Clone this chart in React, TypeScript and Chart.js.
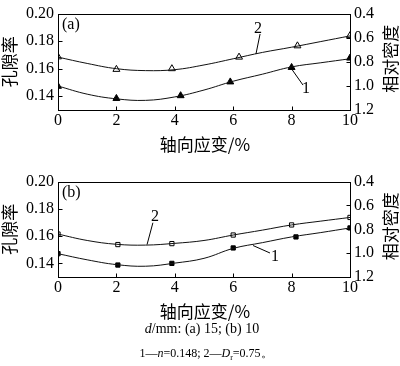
import React, { useEffect, useRef } from "react";
import { Chart, registerables } from "chart.js";
Chart.register(...registerables);

// ---- data ----
const xTicks = [0, 2, 4, 6, 8, 10];
const porosityTicks = [0.14, 0.16, 0.18, 0.2];
const densityTicks = [0.4, 0.6, 0.8, 1.0, 1.2];
const curveX = [0, 1, 2, 3, 4, 5, 6, 7, 8, 9, 10];

const aCurve2 = [0.1684, 0.1638, 0.16, 0.1586, 0.1593, 0.1627, 0.1672, 0.1718, 0.1756, 0.1797, 0.1838];
const aCurve1 = [0.1474, 0.1415, 0.1381, 0.137, 0.1395, 0.1445, 0.1509, 0.156, 0.1613, 0.1643, 0.1672];
const aPts2X = [0, 2, 3.9, 6.2, 8.2, 10];
const aPts2Y = [0.1686, 0.1595, 0.16, 0.1684, 0.1766, 0.184];
const aPts1X = [0, 2, 4.2, 5.9, 8.0, 10];
const aPts1Y = [0.1472, 0.1384, 0.1404, 0.1504, 0.1609, 0.1677];

const bCurve2 = [0.1615, 0.1568, 0.154, 0.1534, 0.1547, 0.1568, 0.1608, 0.1644, 0.1682, 0.171, 0.1737];
const bCurve1 = [0.1471, 0.1426, 0.1391, 0.1379, 0.1402, 0.1437, 0.151, 0.1552, 0.1594, 0.1626, 0.166];
const bPts2X = [0, 2.05, 3.9, 6, 8, 10];
const bPts2Y = [0.1615, 0.1538, 0.1545, 0.1608, 0.1682, 0.1737];
const bPts1X = [0, 2.05, 3.9, 6, 8.15, 10];
const bPts1Y = [0.1471, 0.1388, 0.14, 0.1513, 0.1594, 0.166];

// annotation labels: [text, x, y, leaderX1, leaderY1, leaderX2, leaderY2]
const aNotes: [string, number, number, number, number, number, number][] = [
  ["2", 6.85, 0.189, 6.92, 0.1852, 6.78, 0.1707],
  ["1", 8.49, 0.1454, 7.98, 0.1604, 8.39, 0.1481],
];
const bNotes: [string, number, number, number, number, number, number][] = [
  ["2", 3.32, 0.1739, 3.25, 0.1698, 3.05, 0.1538],
  ["1", 7.43, 0.1448, 6.68, 0.1531, 7.26, 0.1476],
];

const xTitle = "轴向应变/%";
const yTitle = "孔隙率";
const y2Title = "相对密度";

const SERIF = "'Liberation Serif', 'Times New Roman', serif";
const CJK = "'Noto Sans CJK SC', sans-serif";

function zip(xs: number[], ys: number[]) {
  return xs.map((x, i) => ({ x, y: ys[i] }));
}

const decorPlugin = {
  id: "decor",
  afterDraw(chart: any, _args: any, opts: any) {
    const ctx = chart.ctx;
    const { left, right, top, bottom } = chart.chartArea;
    const xs = chart.scales.x;
    const ys = chart.scales.y;
    const y2 = chart.scales.y2;
    ctx.save();
    ctx.strokeStyle = "#000";
    ctx.lineWidth = 1;
    const L = Math.round(left) + 0.5;
    const R = Math.round(right) + 0.5;
    const T = Math.round(top) + 0.5;
    const B = Math.round(bottom) + 0.5;
    ctx.strokeRect(L, T, R - L, B - T);
    ctx.beginPath();
    const tl = 4;
    xTicks.forEach((v) => {
      const px = Math.round(xs.getPixelForValue(v)) + 0.5;
      ctx.moveTo(px, B);
      ctx.lineTo(px, B - tl);
    });
    porosityTicks.forEach((v) => {
      const py = Math.round(ys.getPixelForValue(v)) + 0.5;
      ctx.moveTo(L, py);
      ctx.lineTo(L + tl, py);
    });
    densityTicks.forEach((v) => {
      const py = Math.round(y2.getPixelForValue(v)) + 0.5;
      ctx.moveTo(R, py);
      ctx.lineTo(R - tl, py);
    });
    ctx.stroke();

    // panel label
    ctx.fillStyle = "#000";
    ctx.font = "16px " + SERIF;
    ctx.textAlign = "left";
    ctx.textBaseline = "middle";
    ctx.fillText(opts.panel, left + 4, top + 11);

    // annotations
    ctx.textAlign = "center";
    (opts.notes as any[]).forEach((n) => {
      const [t, x, y, x1, y1, x2, y2v] = n;
      ctx.fillText(t, xs.getPixelForValue(x), ys.getPixelForValue(y));
      ctx.beginPath();
      ctx.moveTo(xs.getPixelForValue(x1), ys.getPixelForValue(y1));
      ctx.lineTo(xs.getPixelForValue(x2), ys.getPixelForValue(y2v));
      ctx.stroke();
    });

    // titles
    ctx.font = "17px " + CJK;
    ctx.textAlign = "center";
    ctx.textBaseline = "middle";
    ctx.fillText(xTitle, 205, bottom + 35);
    const cy = (top + bottom) / 2;
    ctx.save();
    ctx.translate(10, cy);
    ctx.rotate(-Math.PI / 2);
    ctx.fillText(yTitle, 0, 0);
    ctx.restore();
    ctx.save();
    ctx.translate(391, cy - 3);
    ctx.rotate(-Math.PI / 2);
    ctx.fillText(y2Title, 0, 0);
    ctx.restore();
    ctx.restore();
  },
};

function makeConfig(
  c2: number[],
  c1: number[],
  p2: { x: number; y: number }[],
  p1: { x: number; y: number }[],
  style: string,
  radius: number,
  panel: string,
  notes: any[]
): any {
  const line = (d: number[]) => ({
    type: "line",
    data: zip(curveX, d),
    borderColor: "#111",
    borderWidth: 1,
    pointRadius: 0,
    tension: 0.4,
    fill: false,
  });
  const pts = (d: any[], filled: boolean) => ({
    type: "scatter",
    data: d,
    pointStyle: style,
    pointRadius: radius,
    pointBackgroundColor: filled ? "#000" : "#fff",
    pointBorderColor: "#000",
    pointBorderWidth: 1,
    showLine: false,
  });
  const tickFont = { family: SERIF, size: 16 };
  return {
    type: "scatter",
    data: { datasets: [line(c2), line(c1), pts(p2, false), pts(p1, true)] },
    options: {
      responsive: false,
      animation: false,
      devicePixelRatio: 1,
      layout: { padding: { top: 7, left: 0, right: 0, bottom: 0 } },
      plugins: { legend: { display: false }, tooltip: { enabled: false }, decor: { panel, notes } },
      scales: {
        x: {
          type: "linear",
          min: 0,
          max: 10,
          afterBuildTicks: (s: any) => {
            s.ticks = xTicks.map((v) => ({ value: v }));
          },
          ticks: { font: tickFont, color: "#000", padding: 1, maxRotation: 0, autoSkip: false },
          grid: { display: false, drawTicks: false },
          border: { display: false },
          afterFit: (s: any) => {
            s.height = 45;
          },
        },
        y: {
          type: "linear",
          position: "left",
          min: 0.13,
          max: 0.2,
          afterBuildTicks: (s: any) => {
            s.ticks = porosityTicks.map((v) => ({ value: v }));
          },
          ticks: { font: tickFont, color: "#000", padding: 4, callback: (v: any) => Number(v).toFixed(2) },
          grid: { display: false, drawTicks: false },
          border: { display: false },
          afterFit: (s: any) => {
            s.width = 58;
          },
        },
        y2: {
          type: "linear",
          position: "right",
          min: 0.4,
          max: 1.2,
          reverse: true,
          afterBuildTicks: (s: any) => {
            s.ticks = densityTicks.map((v) => ({ value: v }));
          },
          ticks: { font: tickFont, color: "#000", padding: 4, callback: (v: any) => Number(v).toFixed(1) },
          grid: { display: false, drawTicks: false },
          border: { display: false },
          afterFit: (s: any) => {
            s.width = 50;
          },
        },
      },
    },
    plugins: [decorPlugin],
  };
}

export default function App() {
  const refA = useRef<HTMLCanvasElement>(null);
  const refB = useRef<HTMLCanvasElement>(null);
  useEffect(() => {
    const ca = new Chart(
      refA.current as HTMLCanvasElement,
      makeConfig(aCurve2, aCurve1, zip(aPts2X, aPts2Y), zip(aPts1X, aPts1Y), "triangle", 4, "(a)", aNotes)
    );
    const cb = new Chart(
      refB.current as HTMLCanvasElement,
      makeConfig(bCurve2, bCurve1, zip(bPts2X, bPts2Y), zip(bPts1X, bPts1Y), "rect", 3, "(b)", bNotes)
    );
    return () => {
      ca.destroy();
      cb.destroy();
    };
  }, []);
  return (
    <div style={{ position: "fixed", left: 0, top: 0, width: 400, height: 366, background: "#fff", overflow: "hidden" }}>
      <canvas ref={refA} width={400} height={155} style={{ position: "absolute", left: 0, top: 0 }} />
      <canvas ref={refB} width={400} height={154} style={{ position: "absolute", left: 0, top: 168 }} />
      <div
        style={{
          position: "absolute",
          left: 0,
          width: 404,
          top: 320,
          textAlign: "center",
          fontFamily: SERIF,
          fontSize: 14,
          lineHeight: "18px",
          color: "#000",
        }}
      >
        <i>d</i>/mm: (a) 15; (b) 10
      </div>
      <div
        style={{
          position: "absolute",
          left: 0,
          width: 412,
          top: 344,
          textAlign: "center",
          fontFamily: SERIF,
          fontSize: 12,
          lineHeight: "18px",
          color: "#000",
        }}
      >
        1—<i>n</i>=0.148; 2—<i>D</i>
        <sub style={{ fontSize: 8 }}>r</sub>=0.75。
      </div>
    </div>
  );
}
